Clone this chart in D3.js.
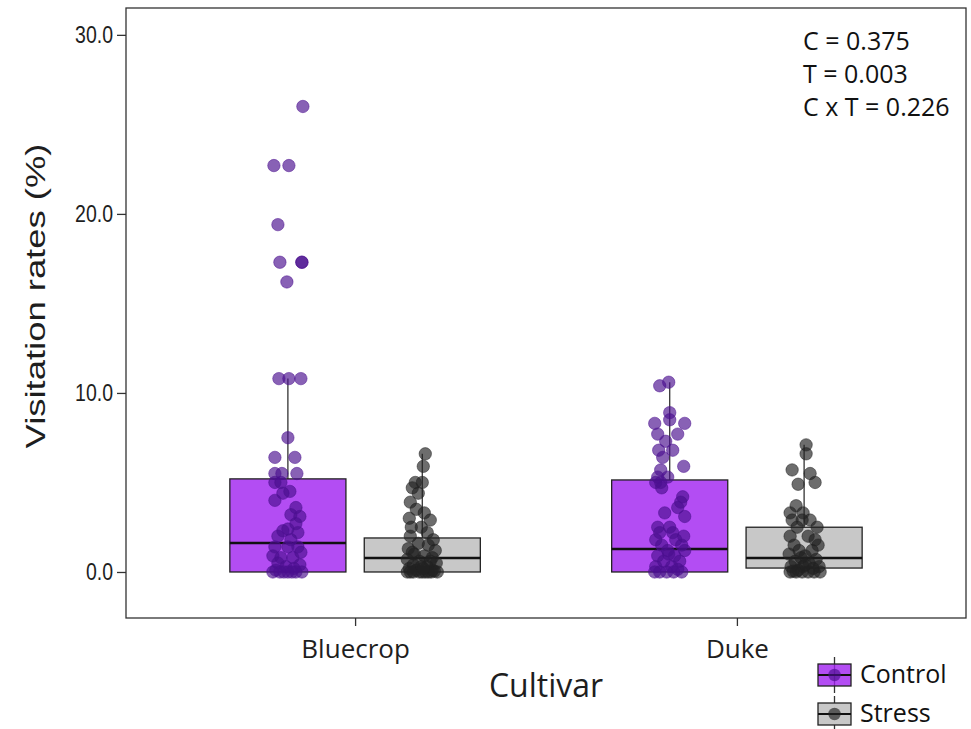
<!DOCTYPE html>
<html>
<head>
<meta charset="utf-8">
<script src="https://cdn.jsdelivr.net/npm/d3@7"></script>
<style>
  html, body { margin: 0; padding: 0; background: #fff; }
  svg { display: block; }
</style>
</head>
<body>
<script>
// ---- data -------------------------------------------------------------
const cultivars = ["Bluecrop", "Duke"];
const treatments = ["Control", "Stress"];
const yTicks = [0, 10, 20, 30];
const statLines = ["C = 0.375", "T = 0.003", "C x T = 0.226"];

// box summaries per cultivar/treatment: [lower whisker, q1, median, q3, upper whisker]
const boxBluecropControl = [0, 0, 1.62, 5.2, 10.8];
const boxBluecropStress  = [0, 0, 0.78, 1.9, 6.6];
const boxDukeControl     = [0, 0, 1.28, 5.14, 10.6];
const boxDukeStress      = [0, 0.22, 0.78, 2.5, 7.1];

// observed visitation rates (%), with the horizontal jitter of each dot
const bluecropControl = [26.0,22.7,22.7,19.4,17.3,17.3,17.3,16.2,10.8,10.8,10.8,7.5,6.4,6.4,5.5,5.5,5.5,5.0,5.0,4.5,4.4,4.0,3.2,3.1,2.7,2.3,2.2,2.4,1.8,1.4,1.4,1.4,0.9,0.8,0.8,0.5,0.4,0.3,0.2,0.1,0,0,0,0,0,0,0,1.1,3.6,2.0];
const bluecropControlJit = [15,-14,1,-10,-8,14,14,-1,-9,1,13,0,-13,7,-13,-6,9,-13,-7,2,-5,-13,3,12,8,-5,10,0,3,-13,0,10,-15,-7,5,-10,12,-2,6,-12,-15,-8,0,8,14,-4,4,13,8,-10];
const bluecropStress = [6.6,5.9,5.0,5.0,4.4,3.9,3.5,3.0,2.9,2.5,2.5,2.2,2.0,1.8,1.6,1.5,1.3,1.2,1.0,0.9,0.8,0.7,0.6,0.5,0.4,0.3,0.3,0.2,0.1,0.1,0,0,0,0,0,0,0,0,0,0.05,0.6,1.1,0.2,3.3,4.7];
const bluecropStressJit = [3,1,-7,0,-4,-12,-6,-13,8,-11,-1,5,-12,11,-4,6,-14,13,-8,2,10,-15,-3,14,-9,5,-1,-13,10,-6,-15,-9,-3,3,9,15,0,-12,6,12,8,-10,1,2,-10];
const dukeControl = [10.6,10.4,8.9,8.5,8.3,8.3,7.7,7.7,7.3,6.8,6.8,6.4,5.9,5.7,5.3,5.3,5.0,5.0,4.7,4.2,3.9,3.6,3.3,3.1,2.5,2.5,2.2,2.2,1.8,1.8,1.5,1.5,1.2,1.2,0.9,0.9,0.6,0.6,0.3,0.3,0,0,0,0,0,0.15,1.0,2.0];
const dukeControlJit = [-1,-10,0,0,-15,15,-12,8,-4,-11,3,-7,14,-9,-12,-2,-9,-14,-8,13,11,8,-5,15,-12,0,-10,3,-14,6,-8,12,-2,15,-12,5,-6,10,-14,2,-10,-3,4,12,-15,8,-1,14];
const dukeStress = [7.1,6.6,5.7,5.5,5.0,4.9,3.7,3.3,3.3,2.9,2.9,2.9,2.5,2.5,2.0,2.0,1.8,1.5,1.5,1.2,1.2,1.0,0.9,0.7,0.6,0.5,0.3,0.3,0.3,0.2,0.1,0,0,0,0,0,0,0.05,0.8,0.4];
const dukeStressJit = [2,2,-12,6,11,-6,-8,-14,-1,-12,6,-2,-7,13,-14,4,11,-10,14,-5,8,-15,1,12,-9,5,-13,-1,15,9,-6,-14,-8,-2,4,10,16,-11,-3,1];

// ---- assemble groups ------------------------------------------------------
const jitUnit = 1 / 382; // jitter arrays above are in 1/382 of a category step
const groups = [
  { cultivar: "Bluecrop", treatment: "Control", box: boxBluecropControl, values: bluecropControl, jit: bluecropControlJit },
  { cultivar: "Bluecrop", treatment: "Stress",  box: boxBluecropStress,  values: bluecropStress,  jit: bluecropStressJit },
  { cultivar: "Duke",     treatment: "Control", box: boxDukeControl,     values: dukeControl,     jit: dukeControlJit },
  { cultivar: "Duke",     treatment: "Stress",  box: boxDukeStress,      values: dukeStress,      jit: dukeStressJit }
];

// ---- layout ---------------------------------------------------------------
const W = 971, H = 729;
const panel = { left: 126, right: 966, top: 8, bottom: 618 };
const sansAxis = "'Liberation Sans', Arial, sans-serif";
const sansLabel = "'Open Sans', sans-serif";

const svg = d3.select("body").append("svg").attr("width", W).attr("height", H);

// discrete axis mapped onto a continuous index so dodge offsets are in category units
const x = d3.scaleLinear().domain([0.4, 2.6]).range([panel.left, panel.right]);
const y = d3.scaleLinear().domain([-2.57, 31.5]).range([panel.bottom, panel.top]);

const dodge = 0.176, boxW = 0.304;
const fills   = { Control: "#a020f0", Stress: "#c8c8c8" };
const fillOp  = { Control: 0.8, Stress: 1 };
const dotCol  = { Control: "#4b0f8f", Stress: "#222222" };
const centre = g => cultivars.indexOf(g.cultivar) + 1 + (g.treatment === "Control" ? -dodge : dodge);

// boxes
const boxG = svg.append("g");
groups.forEach(g => {
  const c = centre(g);
  const [lo, q1, med, q3, hi] = g.box;
  boxG.append("line")
    .attr("x1", x(c)).attr("x2", x(c)).attr("y1", y(q3)).attr("y2", y(hi))
    .attr("stroke", "#333").attr("stroke-width", 1.3);
  boxG.append("line")
    .attr("x1", x(c)).attr("x2", x(c)).attr("y1", y(q1)).attr("y2", y(lo))
    .attr("stroke", "#333").attr("stroke-width", 1.3);
  boxG.append("rect")
    .attr("x", x(c - boxW / 2)).attr("width", x(c + boxW / 2) - x(c - boxW / 2))
    .attr("y", y(q3)).attr("height", Math.max(0.5, y(q1) - y(q3)))
    .attr("fill", fills[g.treatment]).attr("fill-opacity", fillOp[g.treatment])
    .attr("stroke", "#222").attr("stroke-width", 1.3);
  boxG.append("line")
    .attr("x1", x(c - boxW / 2)).attr("x2", x(c + boxW / 2))
    .attr("y1", y(med)).attr("y2", y(med))
    .attr("stroke", "#111").attr("stroke-width", 2.6);
});

// jittered observations
const dotG = svg.append("g");
groups.forEach(g => {
  const c = centre(g);
  dotG.selectAll(null)
    .data(g.values.map((v, i) => ({ v, j: g.jit[i] * jitUnit })))
    .join("circle")
    .attr("cx", d => x(c + d.j))
    .attr("cy", d => y(d.v))
    .attr("r", 6.2)
    .attr("fill", dotCol[g.treatment])
    .attr("fill-opacity", 0.66)
    .attr("stroke", dotCol[g.treatment])
    .attr("stroke-opacity", 0.5)
    .attr("stroke-width", 1);
});

// panel border
svg.append("rect")
  .attr("x", panel.left).attr("y", panel.top)
  .attr("width", panel.right - panel.left).attr("height", panel.bottom - panel.top)
  .attr("fill", "none").attr("stroke", "#333").attr("stroke-width", 1.3);

// y axis (labels are drawn slightly tall)
const yAxis = svg.append("g")
  .attr("transform", `translate(${panel.left},0)`)
  .call(d3.axisLeft(y).tickValues(yTicks).tickFormat(d3.format(".1f")).tickSize(9).tickPadding(4));
yAxis.select(".domain").remove();
yAxis.selectAll(".tick line").attr("stroke", "#333").attr("stroke-width", 1.3);
yAxis.selectAll(".tick text")
  .attr("fill", "#1e1e1e").attr("transform", "scale(1,1.22)")
  .style("font-family", sansAxis).style("font-size", "19.5px");

// x axis
const xAxis = svg.append("g")
  .attr("transform", `translate(0,${panel.bottom})`)
  .call(d3.axisBottom(x).tickValues([1, 2]).tickFormat(i => cultivars[i - 1]).tickSize(8).tickPadding(14));
xAxis.select(".domain").remove();
xAxis.selectAll(".tick line").attr("stroke", "#333").attr("stroke-width", 1.3);
xAxis.selectAll(".tick text")
  .attr("fill", "#1e1e1e").style("font-family", sansLabel).style("font-size", "26px");

// axis titles
svg.append("text")
  .attr("transform", `translate(45,296) rotate(-90) scale(1.3,1)`)
  .attr("text-anchor", "middle")
  .style("font-family", sansAxis).style("font-size", "28px")
  .attr("fill", "#1e1e1e")
  .text("Visitation rates (%)");

svg.append("text")
  .attr("x", 546).attr("y", 697)
  .attr("text-anchor", "middle")
  .style("font-family", sansLabel).style("font-size", "32px")
  .attr("fill", "#1e1e1e")
  .text("Cultivar");

// statistics annotation
svg.append("g").selectAll("text")
  .data(statLines).join("text")
  .attr("x", 803).attr("y", (d, i) => 50 + i * 33)
  .style("font-family", sansLabel).style("font-size", "25px")
  .attr("fill", "#111")
  .text(d => d);

// legend
const legend = svg.append("g");
treatments.forEach((t, i) => {
  const cy = 675 + i * 39;
  const kx = 818, kw = 33, kh = 22;
  const k = legend.append("g");
  k.append("line").attr("x1", kx + kw / 2).attr("x2", kx + kw / 2).attr("y1", cy - 18).attr("y2", cy + 18)
    .attr("stroke", "#333").attr("stroke-width", 1.3);
  k.append("rect").attr("x", kx).attr("y", cy - kh / 2).attr("width", kw).attr("height", kh)
    .attr("fill", fills[t]).attr("fill-opacity", fillOp[t]).attr("stroke", "#222").attr("stroke-width", 1.3);
  k.append("line").attr("x1", kx).attr("x2", kx + kw).attr("y1", cy).attr("y2", cy)
    .attr("stroke", "#111").attr("stroke-width", 2);
  k.append("circle").attr("cx", kx + kw / 2).attr("cy", cy).attr("r", 6.2)
    .attr("fill", dotCol[t]).attr("fill-opacity", 0.66);
  legend.append("text").attr("x", 860).attr("y", cy + 8)
    .style("font-family", sansLabel).style("font-size", "25px")
    .attr("fill", "#111").text(t);
});
</script>
</body>
</html>
